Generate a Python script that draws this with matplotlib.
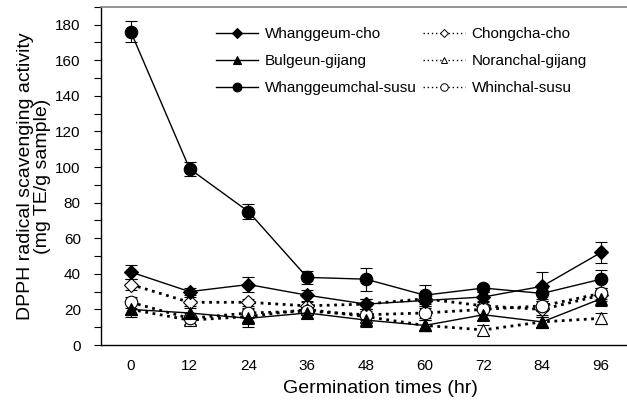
import matplotlib
matplotlib.use("Agg")
import matplotlib.pyplot as plt
from matplotlib.ticker import MultipleLocator
from matplotlib.lines import Line2D

plt.rcParams['font.family'] = ['Liberation Sans', 'DejaVu Sans']

times = [0, 12, 24, 36, 48, 60, 72, 84, 96]

whanggeum_cho = [41, 30, 34, 28, 23, 25, 27, 33, 52]
whanggeum_cho_err = [4, 2, 4, 3, 3, 3, 3, 8, 6]

bulgeun_gijang = [20, 18, 15, 18, 14, 11, 17, 13, 26]
bulgeun_gijang_err = [4, 4, 5, 3, 4, 3, 3, 3, 4]

whanggeumchal_susu = [176, 99, 75, 38, 37, 28, 32, 29, 37]
whanggeumchal_susu_err = [6, 4, 4, 3.5, 6.5, 6, 2, 3, 5]

chongcha_cho = [34, 24, 24, 22, 23, 26, 22, 20, 28]
chongcha_cho_err = [3, 3, 2, 2, 3, 3, 3, 3, 3]

noranchal_gijang = [20, 14, 16, 20, 16, 11, 8.5, 13, 15]
noranchal_gijang_err = [3, 3, 3, 2, 3, 3, 3, 3, 3]

whinchal_susu = [24, 15, 18, 19, 17, 18, 20, 22, 29]
whinchal_susu_err = [3, 3, 3, 2, 3, 3, 3, 3, 3]

series = [
    ("Whanggeum-cho", whanggeum_cho, whanggeum_cho_err, 'D', 'k', '-', 7),
    ("Chongcha-cho", chongcha_cho, chongcha_cho_err, 'D', 'white', ':', 7),
    ("Bulgeun-gijang", bulgeun_gijang, bulgeun_gijang_err, '^', 'k', '-', 8),
    ("Noranchal-gijang", noranchal_gijang, noranchal_gijang_err, '^', 'white', ':', 8),
    ("Whanggeumchal-susu", whanggeumchal_susu, whanggeumchal_susu_err, 'o', 'k', '-', 9),
    ("Whinchal-susu", whinchal_susu, whinchal_susu_err, 'o', 'white', ':', 9),
]

fig = plt.figure(figsize=(6.27, 4.04), dpi=100)
ax = fig.add_axes([0.161, 0.146, 0.839, 0.837])

handles = {}
order = [1, 3, 5, 0, 2, 4]
for i in order:
    name, vals, errs, mk, fc, ls, ms = series[i]
    lw = 1.0 if ls == '-' else 2.0
    ax.errorbar(times, vals, yerr=errs, fmt='none', ecolor='k',
                elinewidth=0.8, capsize=4, capthick=0.8, zorder=2)
    ax.plot(times, vals, linestyle=ls, color='k', linewidth=lw,
            marker=mk, markersize=ms, markerfacecolor=fc,
            markeredgecolor='k', markeredgewidth=0.8, zorder=3)
    # legend proxy: thinner lines and smaller markers, as in the reference legend
    if ls == '-':
        proxy = Line2D([], [], linestyle='-', color='k', linewidth=1.0,
                       marker=mk, markersize=ms * 0.7, markerfacecolor=fc,
                       markeredgecolor='k', markeredgewidth=0.8)
    else:
        proxy = Line2D([], [], linestyle=(0, (1, 2)), color='k', linewidth=1.0,
                       marker=mk, markersize=ms * 0.6, markerfacecolor=fc,
                       markeredgecolor='k', markeredgewidth=0.7)
    handles[name] = proxy

ax.set_xlim(-6.1, 101.3)
ax.set_ylim(0, 190)
ax.set_xticks(times)
ax.set_yticks(range(0, 181, 20))
ax.yaxis.set_minor_locator(MultipleLocator(10))
ax.tick_params(axis='x', length=0, pad=10, labelsize=11)
ax.tick_params(axis='y', which='both', direction='out', length=5, width=0.8, labelsize=11, pad=9.5)

ax.spines['right'].set_visible(False)
ax.spines['top'].set_color('#808080')
ax.spines['top'].set_linewidth(1.2)
ax.spines['left'].set_linewidth(1.0)
ax.spines['bottom'].set_linewidth(1.0)

ax.set_xlabel("Germination times (hr)", fontsize=14)
ax.xaxis.set_label_coords(0.532, -0.1036)
ax.set_ylabel("DPPH radical scavenging activity\n(mg TE/g sample)", fontsize=14,
              linespacing=1.0)
ax.yaxis.set_label_coords(-0.095, 0.5)

legend_order = ["Whanggeum-cho", "Bulgeun-gijang", "Whanggeumchal-susu",
                "Chongcha-cho", "Noranchal-gijang", "Whinchal-susu"]
leg = ax.legend([handles[n] for n in legend_order], legend_order, ncol=2,
                frameon=False, fontsize=11,
                handlelength=2.8, handletextpad=0.4, columnspacing=0.4,
                labelspacing=0.85, loc='upper left', bbox_to_anchor=(0.192, 0.98))

fig.savefig("out.png", dpi=100)
